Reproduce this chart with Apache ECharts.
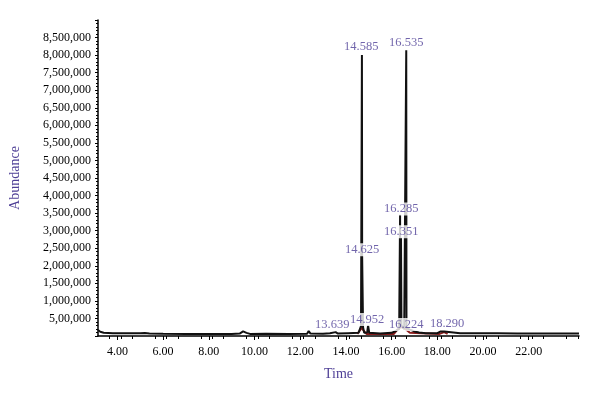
<!DOCTYPE html>
<html>
<head>
<meta charset="utf-8">
<script src="https://cdn.jsdelivr.net/npm/echarts@6/dist/echarts.min.js"></script>
<style>
  html, body { margin: 0; padding: 0; background: #fff; }
  #chromatogram { width: 600px; height: 398px; }
</style>
</head>
<body>
<div id="chromatogram"></div>
<script>
  // trace (time in min, abundance)
  const traceTime = [3.15, 3.25, 3.4, 3.8, 4.5, 5.0, 5.2, 5.4, 6.0, 7.0, 8.0, 9.0, 9.35, 9.5, 9.65, 9.8,
    10.5, 11.5, 12.3, 12.37, 12.45, 13.0, 13.3, 13.55, 13.65, 14.1, 14.55, 14.66, 14.69, 14.70, 14.71,
    14.73, 14.75, 14.8, 14.93, 14.97, 15.02, 15.5, 16.0, 16.2, 16.33, 16.36, 16.37, 16.38, 16.40, 16.41,
    16.43, 16.55, 16.63, 16.64, 16.65, 16.8, 17.0, 17.2, 17.5, 18.0, 18.15, 18.2, 18.3, 18.35, 19.0,
    20.0, 20.5, 20.55, 20.65, 21.5, 23.0, 24.2];
  const traceAbundance = [170000, 120000, 95000, 80000, 75000, 80000, 85000, 70000, 65000, 60000, 60000, 60000, 70000, 130000, 90000, 60000,
    65000, 60000, 65000, 140000, 70000, 65000, 80000, 110000, 70000, 80000, 90000, 280000, 300000, 8000000, 2260000,
    2260000, 250000, 90000, 100000, 300000, 90000, 70000, 90000, 150000, 200000, 250000, 3450000, 250000, 300000, 2800000,
    300000, 200000, 220000, 8140000, 220000, 180000, 130000, 100000, 80000, 80000, 130000, 80000, 130000, 80000, 75000,
    75000, 75000, 110000, 75000, 70000, 70000, 70000];

  // dark red trace under the black one, near the peak bases
  const redTime = [14.5, 14.66, 14.70, 14.74, 14.9, 16.1, 16.25, 16.4, 16.6, 16.8, 18.1, 18.3, 18.45];
  const redAbundance = [60000, 200000, 320000, 180000, 60000, 60000, 180000, 260000, 200000, 90000, 60000, 110000, 60000];

  // peak annotations
  const peakLabels = ['14.585', '16.535', '14.625', '16.285', '16.351', '13.639', '14.952', '16.224', '18.290'];
  const peakLabelTime = [14.67, 16.64, 14.71, 16.42, 16.42, 13.40, 14.93, 16.64, 18.43];
  const peakLabelAbundance = [8250000, 8340000, 2460000, 3620000, 2970000, 330000, 470000, 330000, 360000];

  const xTicks = [4, 6, 8, 10, 12, 14, 16, 18, 20, 22];
  const yTickLabels = ['', '5,00,000', '1,000,000', '1,500,000', '2,000,000', '2,500,000', '3,000,000', '3,500,000',
    '4,000,000', '4,500,000', '5,000,000', '5,500,000', '6,000,000', '6,500,000', '7,000,000', '7,500,000',
    '8,000,000', '8,500,000', ''];

  const purple = '#4e3f96';
  const serif = 'Liberation Serif';

  const myChart = echarts.init(document.getElementById('chromatogram'));
  myChart.setOption({
    animation: false,
    grid: { left: 96, right: 21, top: 20, bottom: 62 },
    xAxis: {
      type: 'value',
      min: 3.15,
      max: 24.2,
      interval: 2,
      name: 'Time',
      nameLocation: 'middle',
      nameGap: 31,
      nameTextStyle: { color: purple, fontFamily: serif, fontSize: 14 },
      axisLine: { lineStyle: { color: '#000', width: 1.5 } },
      axisTick: { show: true, length: 4, lineStyle: { color: '#000' }, customValues: xTicks },
      minorTick: { show: true, splitNumber: 4, length: 3, lineStyle: { color: '#000' } },
      axisLabel: {
        color: '#000', fontFamily: serif, fontSize: 12, margin: 10,
        customValues: xTicks,
        formatter: v => v.toFixed(2)
      },
      splitLine: { show: false }
    },
    yAxis: {
      type: 'value',
      min: 0,
      max: 9000000,
      interval: 500000,
      name: 'Abundance',
      nameLocation: 'middle',
      nameGap: 76,
      nameTextStyle: { color: purple, fontFamily: serif, fontSize: 14 },
      axisLine: { show: true, lineStyle: { color: '#000', width: 1.5 } },
      axisTick: { show: true, length: 3, lineStyle: { color: '#000' } },
      minorTick: { show: true, splitNumber: 5, length: 2, lineStyle: { color: '#000' } },
      axisLabel: {
        color: '#000', fontFamily: serif, fontSize: 12, margin: 7,
        formatter: v => yTickLabels[Math.round(v / 500000)]
      },
      splitLine: { show: false }
    },
    series: [
      {
        type: 'line',
        data: redTime.map((t, i) => [t, redAbundance[i]]),
        symbol: 'none',
        lineStyle: { color: '#8b1c1c', width: 2 },
        z: 2
      },
      {
        type: 'line',
        data: traceTime.map((t, i) => [t, traceAbundance[i]]),
        symbol: 'none',
        lineStyle: { color: '#111', width: 2 },
        z: 3
      },
      {
        type: 'scatter',
        data: peakLabelTime.map((t, i) => [t, peakLabelAbundance[i], peakLabels[i]]),
        symbolSize: 1,
        itemStyle: { color: 'rgba(0,0,0,0)' },
        label: {
          show: true,
          position: 'inside',
          formatter: p => p.data[2],
          color: purple,
          fontFamily: serif,
          fontSize: 12.5,
          backgroundColor: '#fff',
          padding: [0, 1]
        },
        z: 5
      }
    ]
  });
</script>
</body>
</html>
